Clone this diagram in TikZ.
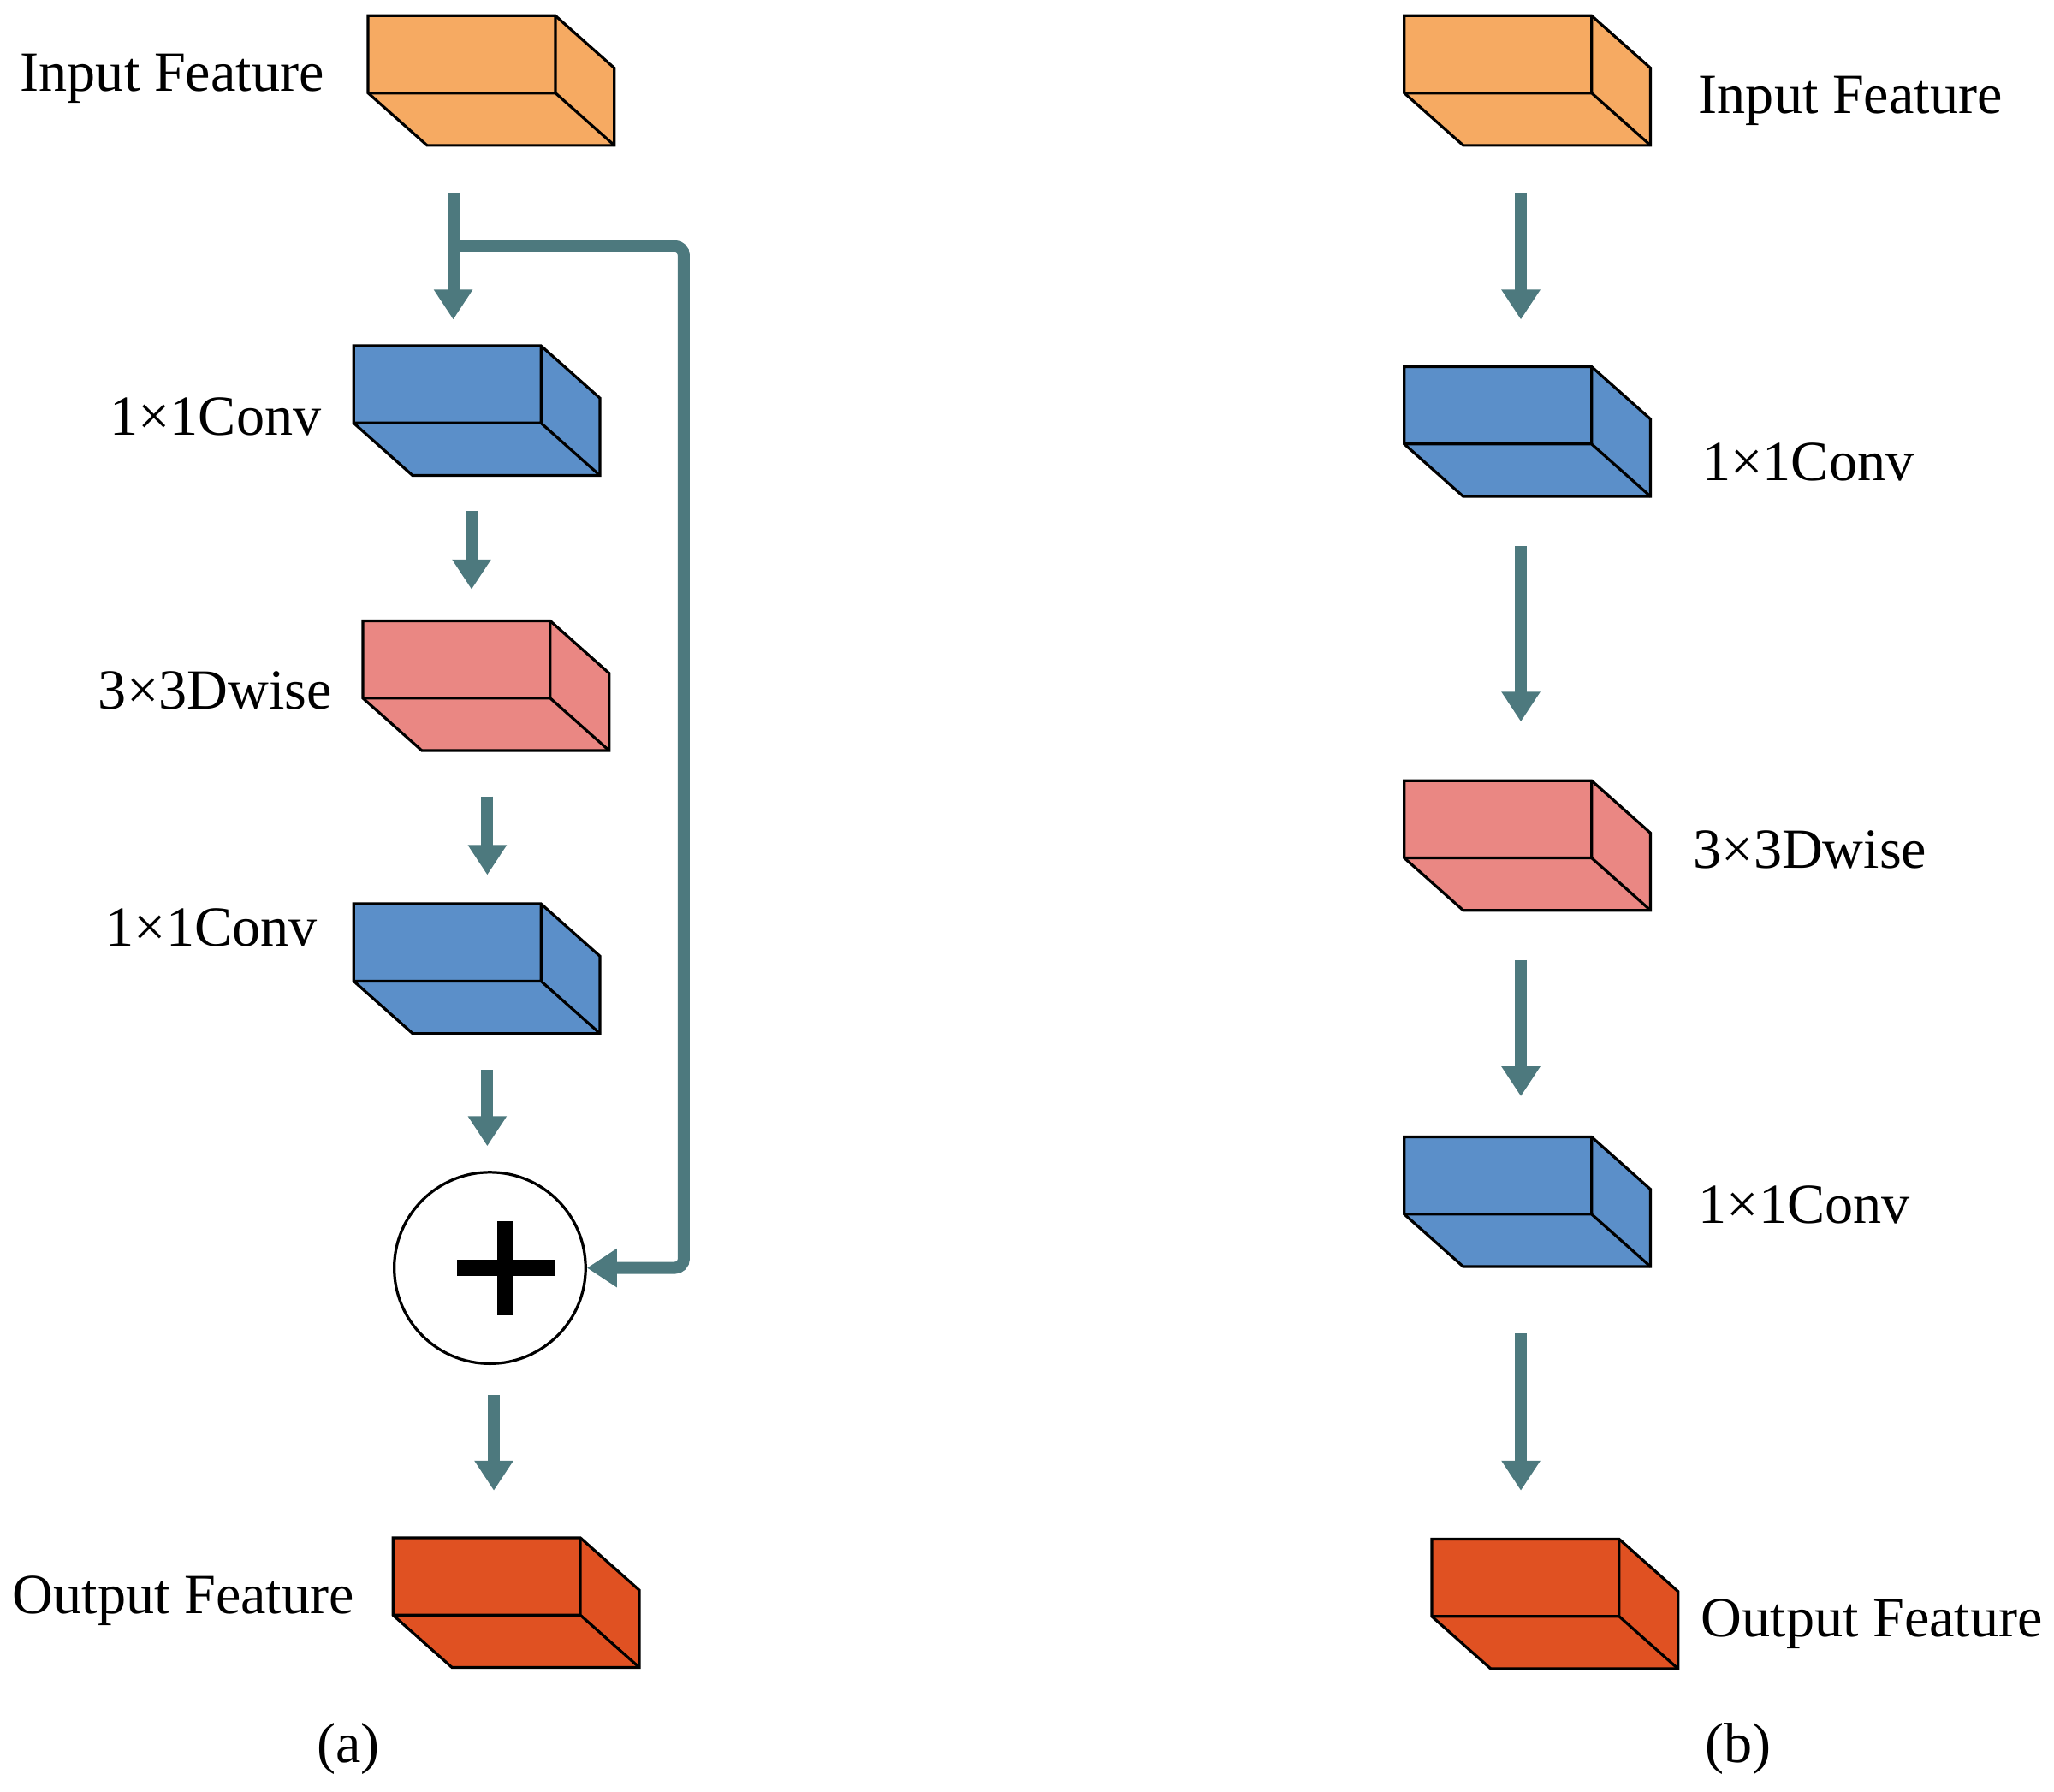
\documentclass[tikz,border=0pt]{standalone}
\usepackage{fontspec}
\setmainfont{Liberation Serif}
\usetikzlibrary{arrows.meta}
\definecolor{arr}{HTML}{4D797E}
\definecolor{cin}{HTML}{F6AA62}
\definecolor{cconv}{HTML}{5B8FC9}
\definecolor{cdw}{HTML}{EA8783}
\definecolor{cout}{HTML}{E05122}
\tikzset{
  flow/.style={draw=arr,line width=2.6pt,-{Triangle[width=8pt,length=6.5pt]}},
  lbl/.style={font=\fontsize{12.3}{14}\selectfont,inner sep=0pt}
}
\newcommand\blk[4]{%
  \fill[#4] (#1,#2) -- ++(143,0) -- ++(45,40) -- ++(0,59) -- ++(-143,0) -- ++(-45,-40) -- cycle;
  \draw[line width=0.6pt] (#1,#2) -- ++(143,0) -- ++(45,40) -- ++(0,59) -- ++(-143,0) -- ++(-45,-40) -- cycle;
  \draw[line width=0.6pt] (#1,#2+59) -- ++(143,0) -- ++(0,-59) (#1+143,#2+59) -- ++(45,40);
  \coordinate (#3) at (#1+94,#2+49);}
\begin{document}
\begin{tikzpicture}[x=0.01cm,y=-0.01cm]
\useasboundingbox (0,0) rectangle (1568,1368);
% (a)
\blk{281}{12}{ain}{cin}
\blk{270}{264}{ac1}{cconv}
\blk{277}{474}{adw}{cdw}
\blk{270}{690}{ac2}{cconv}
\blk{300}{1174}{aout}{cout}
\node[circle,draw,line width=0.6pt,inner sep=0pt,minimum size=1.46cm] (plus) at (374,968) {};
\draw[line width=3.5pt] (349,968) -- (424,968) (386,932) -- (386,1004);
\coordinate (a1s) at (346,147); \coordinate (a1e) at (346,244);
\coordinate (a2s) at (360,390); \coordinate (a2e) at (360,450);
\coordinate (a3s) at (372,608); \coordinate (a3e) at (372,668);
\coordinate (a4s) at (372,817); \coordinate (a4e) at (372,875);
\coordinate (a5s) at (377,1065); \coordinate (a5e) at (377,1138);
\coordinate (sk) at (346,188);
\foreach \i in {1,...,5} \draw[flow] (a\i s) -- (a\i e);
\draw[flow,rounded corners=2pt] (sk) -- (522,188) -- (522,968) -- (plus.east);
\node[lbl,anchor=east] at (248,60) {Input Feature};
\node[lbl,anchor=east] at (246,318) {1×1Conv};
\node[lbl,anchor=east] at (254,527) {3×3Dwise};
\node[lbl,anchor=east] at (243,708) {1×1Conv};
\node[lbl,anchor=east] at (271,1222) {Output Feature};
\node[lbl] at (266,1335) {(a)};
% (b)
\blk{1072}{12}{bin}{cin}
\blk{1072}{280}{bc1}{cconv}
\blk{1072}{596}{bdw}{cdw}
\blk{1072}{868}{bc2}{cconv}
\blk{1093}{1175}{bout}{cout}
\coordinate (b1s) at (1161,147); \coordinate (b1e) at (1161,244);
\coordinate (b2s) at (1161,417); \coordinate (b2e) at (1161,551);
\coordinate (b3s) at (1161,733); \coordinate (b3e) at (1161,837);
\coordinate (b4s) at (1161,1018); \coordinate (b4e) at (1161,1138);
\foreach \i in {1,...,4} \draw[flow] (b\i s) -- (b\i e);
\node[lbl,anchor=west] at (1296,77) {Input Feature};
\node[lbl,anchor=west] at (1299,353) {1×1Conv};
\node[lbl,anchor=west] at (1292,649) {3×3Dwise};
\node[lbl,anchor=west] at (1296,920) {1×1Conv};
\node[lbl,anchor=west] at (1298,1240) {Output Feature};
\node[lbl] at (1327,1335) {(b)};
\end{tikzpicture}
\end{document}
